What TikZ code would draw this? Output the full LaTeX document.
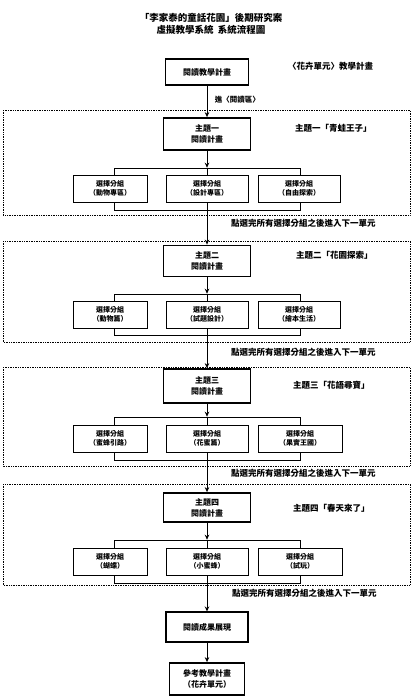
\documentclass[tikz,border=0pt]{standalone}
\usepackage{fontspec}
\setmainfont{Noto Sans CJK TC}
\usetikzlibrary{arrows.meta}
\begin{document}
\begin{tikzpicture}[x=1pt,y=-1pt,
  mainbox/.style={draw, line width=1.8pt, fill=white, align=center, inner sep=0pt, minimum width=87pt, font=\bfseries\fontsize{8}{11}\selectfont},
  topbox/.style={draw, line width=1.1pt, fill=white, align=center, inner sep=0pt, font=\bfseries\fontsize{8}{10}\selectfont},
  subbox/.style={draw, line width=1pt, fill=white, align=center, inner sep=0pt, minimum height=27pt, font=\bfseries\fontsize{7}{9.5}\selectfont},
  grp/.style={draw, line width=0.6pt, inner sep=0pt, minimum width=186pt},
  sect/.style={densely dotted, line width=0.7pt},
  arr/.style={-{Stealth[length=5pt,width=4.5pt]}, line width=0.9pt},
  ln/.style={line width=0.9pt},
  side/.style={anchor=west, font=\bfseries\fontsize{8.5}{10}\selectfont, inner sep=0pt},
  note/.style={anchor=west, font=\bfseries\fontsize{8.5}{10}\selectfont, inner sep=0pt},
  ttl/.style={font=\bfseries\fontsize{9.5}{11}\selectfont, inner sep=0pt}]
\useasboundingbox (0,0) rectangle (413,697);

% title
\node[ttl] (title1) at (211,18) {「李家泰的童話花園」後期研究案};
\node[ttl] (title2) at (211,30) {虛擬教學系統\ \ 系統流程圖};

% section frames
\draw[sect] (3,110) rectangle (410,215);
\draw[sect] (3,241) rectangle (410,342);
\draw[sect] (3,367) rectangle (410,466);
\draw[sect] (3,484) rectangle (410,585);

% top
\node[topbox, minimum width=83pt, minimum height=26pt] (t0) at (207,72) {閱讀教學計畫};
\node[side] (rt0) at (288,66) {〈花卉單元〉教學計畫};

% section 1
\node[mainbox, minimum height=32pt] (m1) at (207,134) {主題一\\閱讀計畫};
\node[side] (r1) at (295,128) {主題一「青蛙王子」};
\node[grp, minimum height=42pt] (g1) at (207,189) {};
\draw[ln] (g1.north) -- (g1.south);
\node[subbox, minimum width=74pt] (c11) at (110,188.5) {選擇分組\\（動物專區）};
\node[subbox, minimum width=82pt] (c12) at (207,188.5) {選擇分組\\（設計專區）};
\node[subbox, minimum width=82pt] (c13) at (299,188.5) {選擇分組\\（自由探索）};
\node[note] (n1) at (231,223) {點選完所有選擇分組之後進入下一單元};

% section 2
\node[mainbox, minimum height=31pt] (m2) at (207,261) {主題二\\閱讀計畫};
\node[side] (r2) at (296,255) {主題二「花園探索」};
\node[grp, minimum height=41pt] (g2) at (207,314.5) {};
\draw[ln] (g2.north) -- (g2.south);
\node[subbox, minimum width=74pt] (c21) at (110,314.5) {選擇分組\\（動物篇）};
\node[subbox, minimum width=82pt] (c22) at (207,314.5) {選擇分組\\（試題設計）};
\node[subbox, minimum width=82pt] (c23) at (299,314.5) {選擇分組\\（繪本生活）};
\node[note] (n2) at (231,352) {點選完所有選擇分組之後進入下一單元};

% section 3
\node[mainbox, minimum height=34pt] (m3) at (207,386) {主題三\\閱讀計畫};
\node[side] (r3) at (293,385) {主題三「花語尋寶」};
\node[grp, minimum height=43pt] (g3) at (207,438.5) {};
\draw[ln] (g3.north) -- (g3.south);
\node[subbox, minimum width=74pt] (c31) at (110,438.5) {選擇分組\\（蜜蜂引路）};
\node[subbox, minimum width=82pt] (c32) at (207,438.5) {選擇分組\\（花蜜篇）};
\node[subbox, minimum width=84pt] (c33) at (300,438.5) {選擇分組\\（果實王國）};
\node[note] (n3) at (231,473) {點選完所有選擇分組之後進入下一單元};

% section 4
\node[mainbox, minimum height=29pt] (m4) at (207,507.5) {主題四\\閱讀計畫};
\node[side] (r4) at (293,508) {主題四「春天來了」};
\node[grp, minimum height=43pt] (g4) at (207,561.5) {};
\draw[ln] (g4.north) -- (g4.south);
\node[subbox, minimum width=74pt] (c41) at (110,561.5) {選擇分組\\（蝴蝶）};
\node[subbox, minimum width=82pt] (c42) at (207,561.5) {選擇分組\\（小蜜蜂）};
\node[subbox, minimum width=84pt] (c43) at (300,561.5) {選擇分組\\（試玩）};
\node[note] (n4) at (232,593) {點選完所有選擇分組之後進入下一單元};

% end
\node[topbox, minimum width=82pt, minimum height=30pt] (m5) at (207,627) {閱讀成果展現};
\node[mainbox, minimum width=75pt, minimum height=32pt] (m6) at (207,679) {參考教學計畫\\（花卉單元）};

% connectors
\draw[arr] (t0.south) -- node[right=4pt, font=\bfseries\fontsize{7.5}{9}\selectfont, pos=0.45] {進〈閱讀區〉} (m1.north);
\draw[arr] (m1.south) -- (g1.north);
\draw[arr] (g1.south) -- (m2.north);
\draw[arr] (m2.south) -- (g2.north);
\draw[arr] (g2.south) -- (m3.north);
\draw[arr] (m3.south) -- (g3.north);
\draw[arr] (g3.south) -- (m4.north);
\draw[arr] (m4.south) -- (g4.north);
\draw[arr] (g4.south) -- (m5.north);
\draw[arr] (m5.south) -- (m6.north);
\end{tikzpicture}
\end{document}
